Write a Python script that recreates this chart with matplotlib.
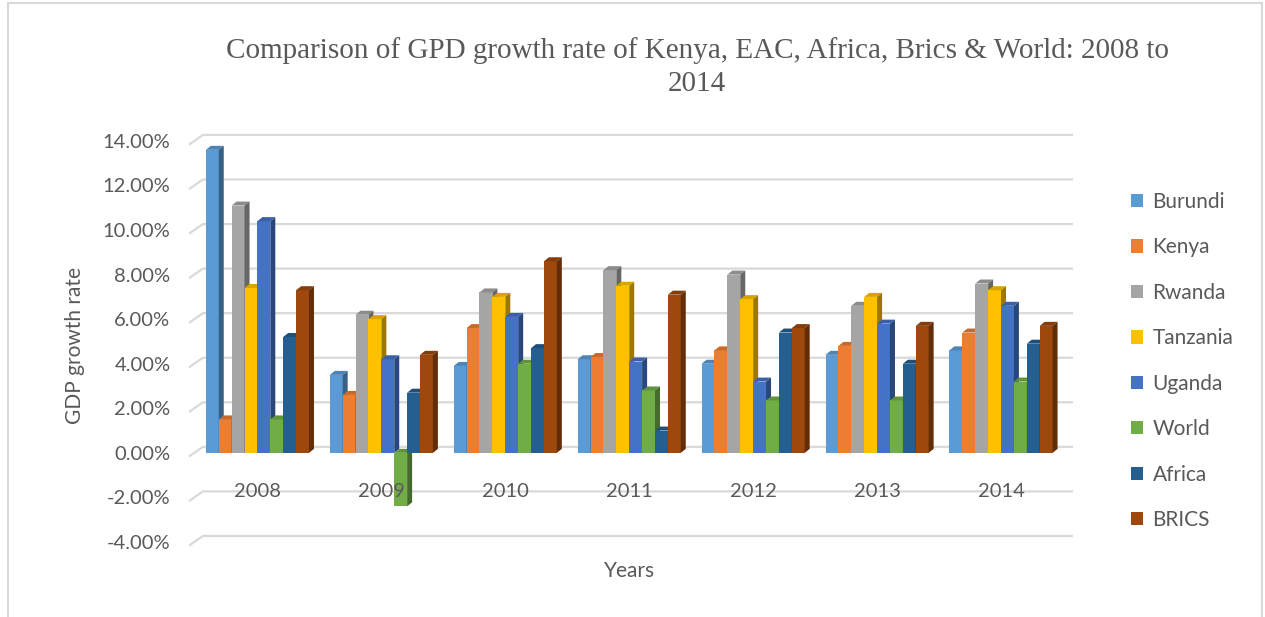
import matplotlib.pyplot as plt
from matplotlib.patches import Polygon, Rectangle
import numpy as np

# GDP growth rate (%) by year
years = ["2008", "2009", "2010", "2011", "2012", "2013", "2014"]
burundi = [13.6, 3.5, 3.9, 4.2, 4.0, 4.4, 4.6]
kenya = [1.5, 2.6, 5.6, 4.3, 4.6, 4.8, 5.4]
rwanda = [11.1, 6.2, 7.2, 8.2, 8.0, 6.6, 7.6]
tanzania = [7.4, 6.0, 7.0, 7.5, 6.9, 7.0, 7.3]
uganda = [10.4, 4.2, 6.1, 4.1, 3.2, 5.8, 6.6]
world = [1.5, -2.4, 4.0, 2.8, 2.35, 2.35, 3.2]
africa = [5.2, 2.7, 4.7, 1.0, 5.4, 4.0, 4.9]
brics = [7.3, 4.4, 8.6, 7.1, 5.6, 5.7, 5.7]

series = [("Burundi", burundi), ("Kenya", kenya), ("Rwanda", rwanda),
          ("Tanzania", tanzania), ("Uganda", uganda), ("World", world),
          ("Africa", africa), ("BRICS", brics)]
colors = ["#5B9BD5", "#ED7D31", "#A5A5A5", "#FFC000",
          "#4472C4", "#70AD47", "#255E91", "#9E480E"]
yticks = np.arange(-4, 15, 2)

plt.rcParams["font.family"] = ["Lato", "DejaVu Sans"]
text_col = "#595959"

fig = plt.figure(figsize=(12.65, 6.17), dpi=100)
ax = fig.add_axes([0.1545, 0.1216, 0.6858, 0.65])
ax.set_xlim(-0.5, 6.5)
ax.set_ylim(-4, 14)

# pixel -> data conversions for the fake 3d look
px_x = 7 / 867.5
px_y = 18 / 401
dx, dy = 5 * px_x, 4 * px_y


def shade(c, f):
    r, g, b = plt.matplotlib.colors.to_rgb(c)
    return (r * f, g * f, b * f)


# back wall gridlines with the little floor diagonal on the left
for v in yticks:
    ax.plot([-0.5 - 5.5 * px_x, -0.5 + 7.5 * px_x, 6.5 + 9 * px_x],
            [v - 3 * px_y, v + 6 * px_y, v + 6 * px_y],
            color="#D9D9D9", lw=1.6, zorder=0, clip_on=False)

w = 0.104
x = np.arange(len(years))
for i, (name, vals) in enumerate(series):
    xs = x + (i - 3.5) * w
    ax.bar(xs, vals, w, color=colors[i], label=name, zorder=2)
    for xc, v in zip(xs, vals):
        x0, x1 = xc - w / 2, xc + w / 2
        top = max(v, 0)
        ax.add_patch(Polygon([(x0, top), (x1, top), (x1 + dx, top + dy), (x0 + dx, top + dy)],
                             closed=True, color=shade(colors[i], 0.85), lw=0, zorder=2))
        ax.add_patch(Polygon([(x1, 0), (x1, v), (x1 + dx, v + dy), (x1 + dx, dy)],
                             closed=True, color=shade(colors[i], 0.62), lw=0, zorder=2))

ax.set_yticks(yticks)
ax.set_yticklabels([f"{v:.2f}%" for v in yticks])
ax.set_xticks(x)
ax.set_xticklabels(years)
ax.spines["bottom"].set_position(("data", 0))
for s in ax.spines.values():
    s.set_visible(False)
ax.tick_params(axis="y", length=0, pad=18, labelsize=14.5, labelcolor=text_col)
ax.tick_params(axis="x", length=0, pad=22, labelsize=14.5, labelcolor=text_col)
ax.xaxis.set_zorder(5)

ax.set_xlabel("Years", fontsize=15, color=text_col)
ax.xaxis.set_label_coords(0.5, -0.047)
ax.set_ylabel("GDP growth rate", fontsize=15, color=text_col)
ax.yaxis.set_label_coords(-0.127, 0.49)

fig.text(697 / 1265, 1 - 67 / 617,
         "Comparison of GPD growth rate of Kenya, EAC, Africa, Brics & World: 2008 to\n2014",
         ha="center", va="center", fontsize=21, color=text_col,
         family="Liberation Serif", linespacing=1.38)

fig.legend(loc="center left", bbox_to_anchor=(1112 / 1265, 1 - 361 / 617),
           frameon=False, fontsize=15, labelcolor=text_col,
           handlelength=0.6, handleheight=0.6, handletextpad=0.45,
           labelspacing=1.22)

# outer chart frame
fig.patches.append(Rectangle((8 / 1265, -0.05), 1254 / 1265, 1.05 - 3 / 617,
                             transform=fig.transFigure, fill=False,
                             edgecolor="#D9D9D9", lw=1.5))

fig.savefig("out.png", dpi=100)
